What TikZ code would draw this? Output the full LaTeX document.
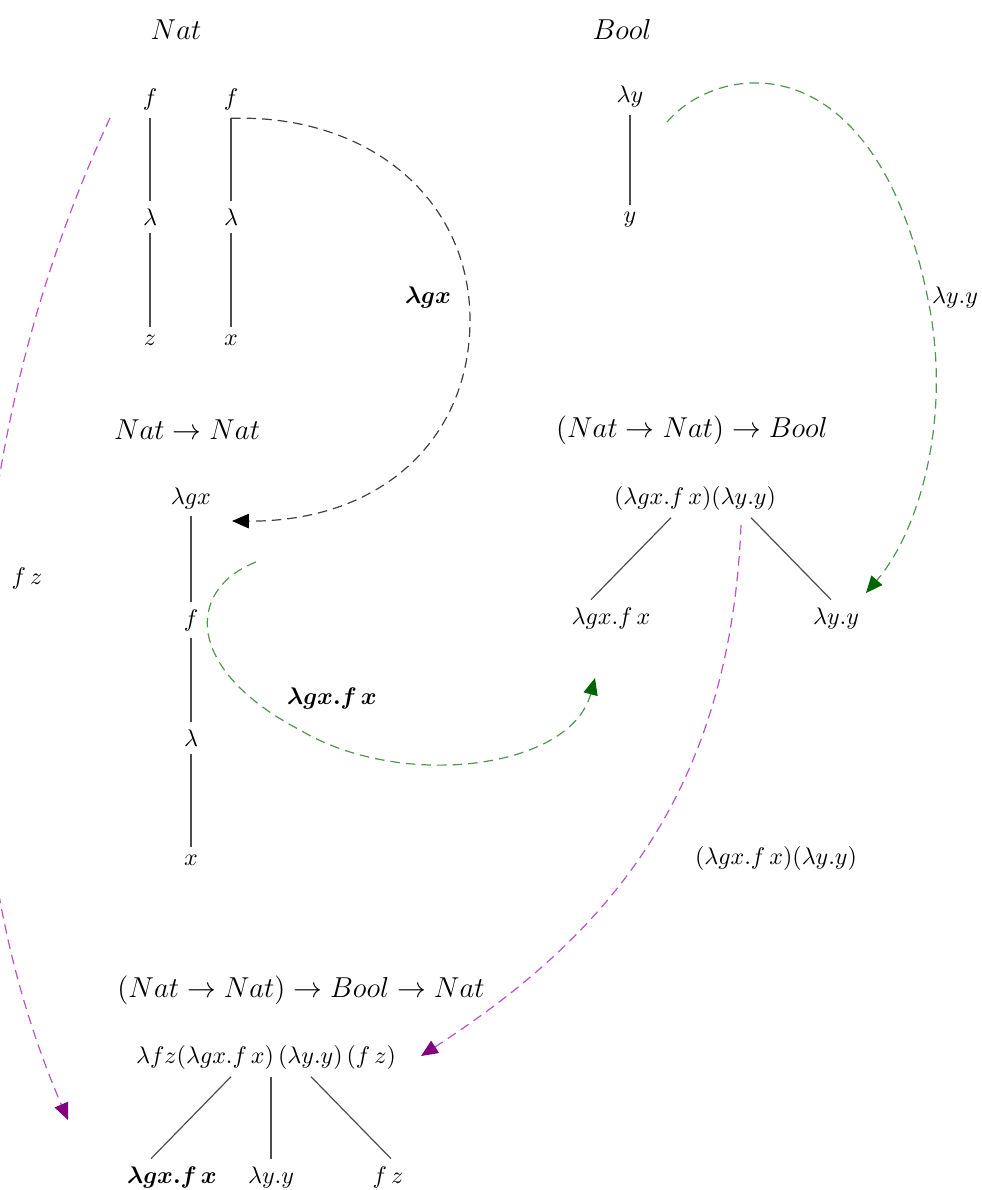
\documentclass[tikz,border=0pt]{standalone}
\usepackage{bm}
\usetikzlibrary{arrows.meta,calc}
\definecolor{linkgreen}{RGB}{80,150,80}
\definecolor{tipgreen}{RGB}{0,100,0}
\definecolor{linkpurple}{RGB}{190,80,200}
\definecolor{tippurple}{RGB}{128,0,128}
\begin{document}
\begin{tikzpicture}[x=0.4167pt,y=-0.4167pt,
  term/.style={inner sep=3pt},
  ty/.style={inner sep=3pt,font=\large},
  branch/.style={draw=black!70,line width=0.5pt},
  tie/.style={dash pattern=on 4pt off 2.5pt,line width=0.5pt}]
\useasboundingbox (0,0) rectangle (981,1190);
\clip (0,0) rectangle (981,1190);
\node[ty] (tnat) at (176,30) {$Nat$};
\node[ty] (tbool) at (622,30) {$Bool$};
\node[ty] (tnn) at (187,430) {$Nat\rightarrow Nat$};
\node[ty] (tnnb) at (692,430) {$(Nat\rightarrow Nat)\rightarrow Bool$};
\node[ty] (tall) at (301,990) {$(Nat\rightarrow Nat)\rightarrow Bool\rightarrow Nat$};
\node[term] (fa) at (150,100) {$f$};
\node[term] (la) at (150,217) {$\lambda$};
\node[term] (za) at (150,340) {$z$};
\node[term] (fb) at (231,100) {$f$};
\node[term] (lb) at (231,217) {$\lambda$};
\node[term] (xb) at (231,340) {$x$};
\node[term] (ly) at (630,97) {$\lambda y$};
\node[term] (yy) at (630,220) {$y$};
\node[term] (lgx) at (191,498) {$\lambda gx$};
\node[term] (fc) at (191,620) {$f$};
\node[term] (lc) at (191,738) {$\lambda$};
\node[term] (xc) at (191,860) {$x$};
\node[term] (app) at (695,498) {$(\lambda gx.f\,x)(\lambda y.y)$};
\node[term] (appl) at (611,618) {$\lambda gx.f\,x$};
\node[term] (appr) at (836,618) {$\lambda y.y$};
\node[term] (full) at (266,1057) {$\lambda fz(\lambda gx.f\,x)\,(\lambda y.y)\,(f\,z)$};
\node[term] (fulla) at (172,1177) {$\bm{\lambda gx.f\,x}$};
\node[term] (fullb) at (271,1177) {$\lambda y.y$};
\node[term] (fullc) at (388,1177) {$f\,z$};
\node[term] (klgx) at (428,298) {$\bm{\lambda gx}$};
\node[term] (kly) at (955,298) {$\lambda y.y$};
\node[term] (kfx) at (332,698) {$\bm{\lambda gx.f\,x}$};
\node[term] (kapp) at (776,858) {$(\lambda gx.f\,x)(\lambda y.y)$};
\node[term] (kfz) at (27,578) {$f\,z$};
\coordinate (gxend) at (232,521);
\coordinate (lystart) at (667,122);
\coordinate (lyend) at (866,593);
\coordinate (fxstart) at (256,562);
\coordinate (fxend) at (595,678);
\coordinate (appstart) at (741,525);
\coordinate (append) at (421,1056);
\coordinate (fzstart) at (110,118);
\coordinate (fzend) at (68,1120);
\draw[branch] (fa) -- (la);
\draw[branch] (la) -- (za);
\draw[branch] (fb) -- (lb);
\draw[branch] (lb) -- (xb);
\draw[branch] (ly) -- (yy);
\draw[branch] (lgx) -- (fc);
\draw[branch] (fc) -- (lc);
\draw[branch] (lc) -- (xc);
\draw[branch] ($(app.south)+(-24,0)$) -- ($(appl.north)+(-20,0)$);
\draw[branch] ($(app.south)+(56,0)$) -- ($(appr.north)+(-5,0)$);
\draw[branch] ($(full.south)+(-35,0)$) -- ($(fulla.north)+(-21,0)$);
\draw[branch] ($(full.south)+(5,0)$) -- (fullb.north);
\draw[branch] ($(full.south)+(45,0)$) -- ($(fullc.north)+(3,0)$);
\draw[tie,draw=black!75,-{Triangle[length=7pt,width=6pt,color=black]}]
  (fb.south) .. controls (370,114) and (470,200) .. (470,320)
  .. controls (470,440) and (380,522) .. (gxend);
\draw[tie,draw=linkgreen,-{Triangle[length=7pt,width=6pt,color=tipgreen]}]
  (lystart) .. controls (720,60) and (880,40) .. (930,310)
  .. controls (950,420) and (920,530) .. (lyend);
\draw[tie,draw=linkgreen,-{Triangle[length=7pt,width=6pt,color=tipgreen]}]
  (fxstart) .. controls (185,590) and (185,670) .. (300,730)
  .. controls (400,790) and (570,770) .. (fxend);
\draw[tie,draw=linkpurple,-{Triangle[length=7pt,width=6pt,color=tippurple]}]
  (appstart) .. controls (730,800) and (600,940) .. (append);
\draw[tie,draw=linkpurple,-{Triangle[length=7pt,width=6pt,color=tippurple]}]
  (fzstart) .. controls (-30,420) and (-70,800) .. (fzend);
\end{tikzpicture}
\end{document}
